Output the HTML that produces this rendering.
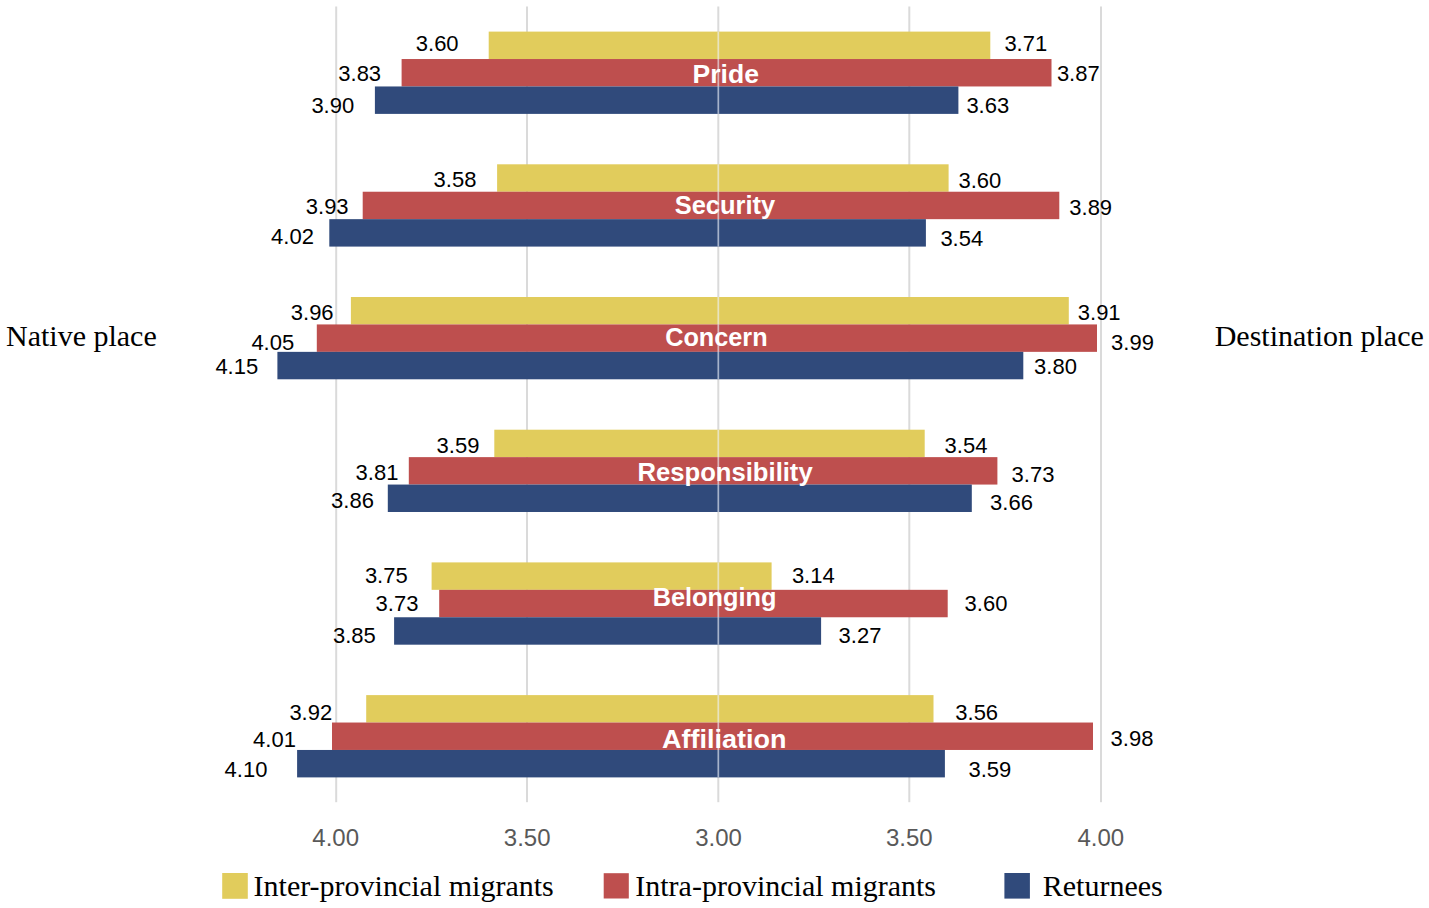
<!DOCTYPE html>
<html><head><meta charset="utf-8"><style>
html,body{margin:0;padding:0;background:#fff;}
body{width:1429px;height:908px;overflow:hidden;}
svg{display:block;}
.v{font-family:"Liberation Sans",sans-serif;font-size:22px;fill:#000;text-anchor:middle;}
.c{font-family:"Liberation Sans",sans-serif;font-weight:bold;font-size:26px;fill:#fff;text-anchor:middle;}
.a{font-family:"Liberation Sans",sans-serif;font-size:24px;fill:#595959;text-anchor:middle;}
.s{font-family:"Liberation Serif",serif;font-size:30px;fill:#000;}
</style></head><body>
<svg width="1429" height="908" viewBox="0 0 1429 908">
<rect width="1429" height="908" fill="#fff"/>
<rect x="335.2" y="6.5" width="2" height="795.7" fill="#dadada"/>
<rect x="526" y="6.5" width="2" height="795.7" fill="#dadada"/>
<rect x="717.3" y="6.5" width="2" height="795.7" fill="#dadada"/>
<rect x="908.3" y="6.5" width="2" height="795.7" fill="#dadada"/>
<rect x="1100" y="6.5" width="2" height="795.7" fill="#dadada"/>
<rect x="488.70" y="31.60" width="229.55" height="27.43" fill="#E1CC5C"/>
<rect x="718.25" y="31.60" width="272.05" height="27.43" fill="#E1CC5C"/>
<rect x="401.60" y="59.03" width="316.65" height="27.43" fill="#BE4F4E"/>
<rect x="718.25" y="59.03" width="333.25" height="27.43" fill="#BE4F4E"/>
<rect x="374.90" y="86.46" width="343.35" height="27.43" fill="#304A7B"/>
<rect x="718.25" y="86.46" width="240.15" height="27.43" fill="#304A7B"/>
<rect x="497.10" y="164.30" width="221.15" height="27.43" fill="#E1CC5C"/>
<rect x="718.25" y="164.30" width="230.35" height="27.43" fill="#E1CC5C"/>
<rect x="362.70" y="191.73" width="355.55" height="27.43" fill="#BE4F4E"/>
<rect x="718.25" y="191.73" width="341.05" height="27.43" fill="#BE4F4E"/>
<rect x="329.30" y="219.16" width="388.95" height="27.43" fill="#304A7B"/>
<rect x="718.25" y="219.16" width="207.65" height="27.43" fill="#304A7B"/>
<rect x="350.90" y="297.00" width="367.35" height="27.43" fill="#E1CC5C"/>
<rect x="718.25" y="297.00" width="350.55" height="27.43" fill="#E1CC5C"/>
<rect x="316.80" y="324.43" width="401.45" height="27.43" fill="#BE4F4E"/>
<rect x="718.25" y="324.43" width="378.75" height="27.43" fill="#BE4F4E"/>
<rect x="277.40" y="351.86" width="440.85" height="27.43" fill="#304A7B"/>
<rect x="718.25" y="351.86" width="305.05" height="27.43" fill="#304A7B"/>
<rect x="494.30" y="429.70" width="223.95" height="27.43" fill="#E1CC5C"/>
<rect x="718.25" y="429.70" width="206.45" height="27.43" fill="#E1CC5C"/>
<rect x="408.80" y="457.13" width="309.45" height="27.43" fill="#BE4F4E"/>
<rect x="718.25" y="457.13" width="279.15" height="27.43" fill="#BE4F4E"/>
<rect x="387.80" y="484.56" width="330.45" height="27.43" fill="#304A7B"/>
<rect x="718.25" y="484.56" width="253.55" height="27.43" fill="#304A7B"/>
<rect x="431.60" y="562.40" width="286.65" height="27.43" fill="#E1CC5C"/>
<rect x="718.25" y="562.40" width="53.35" height="27.43" fill="#E1CC5C"/>
<rect x="439.20" y="589.83" width="279.05" height="27.43" fill="#BE4F4E"/>
<rect x="718.25" y="589.83" width="229.45" height="27.43" fill="#BE4F4E"/>
<rect x="394.10" y="617.26" width="324.15" height="27.43" fill="#304A7B"/>
<rect x="718.25" y="617.26" width="102.85" height="27.43" fill="#304A7B"/>
<rect x="366.20" y="695.10" width="352.05" height="27.43" fill="#E1CC5C"/>
<rect x="718.25" y="695.10" width="215.25" height="27.43" fill="#E1CC5C"/>
<rect x="332.00" y="722.53" width="386.25" height="27.43" fill="#BE4F4E"/>
<rect x="718.25" y="722.53" width="374.75" height="27.43" fill="#BE4F4E"/>
<rect x="297.10" y="749.96" width="421.15" height="27.43" fill="#304A7B"/>
<rect x="718.25" y="749.96" width="226.65" height="27.43" fill="#304A7B"/>
<rect x="717.4" y="31.60" width="1.8" height="82.29" fill="#eef4ff" fill-opacity="0.55"/>
<rect x="717.4" y="164.30" width="1.8" height="82.29" fill="#eef4ff" fill-opacity="0.55"/>
<rect x="717.4" y="297.00" width="1.8" height="82.29" fill="#eef4ff" fill-opacity="0.55"/>
<rect x="717.4" y="429.70" width="1.8" height="82.29" fill="#eef4ff" fill-opacity="0.55"/>
<rect x="717.4" y="562.40" width="1.8" height="82.29" fill="#eef4ff" fill-opacity="0.55"/>
<rect x="717.4" y="695.10" width="1.8" height="82.29" fill="#eef4ff" fill-opacity="0.55"/>
<text x="437.2" y="51.3" class="v">3.60</text>
<text x="1025.8" y="51.3" class="v">3.71</text>
<text x="359.7" y="80.7" class="v">3.83</text>
<text x="1078.3" y="80.7" class="v">3.87</text>
<text x="332.8" y="112.9" class="v">3.90</text>
<text x="987.8" y="112.9" class="v">3.63</text>
<text x="455" y="186.8" class="v">3.58</text>
<text x="979.9" y="187.9" class="v">3.60</text>
<text x="327.2" y="214.0" class="v">3.93</text>
<text x="1090.7" y="214.5" class="v">3.89</text>
<text x="292.5" y="244.3" class="v">4.02</text>
<text x="961.8" y="245.6" class="v">3.54</text>
<text x="312.2" y="320" class="v">3.96</text>
<text x="1099.2" y="320" class="v">3.91</text>
<text x="272.8" y="350.1" class="v">4.05</text>
<text x="1132.5" y="350.3" class="v">3.99</text>
<text x="236.8" y="374.2" class="v">4.15</text>
<text x="1055.5" y="374.2" class="v">3.80</text>
<text x="458" y="452.9" class="v">3.59</text>
<text x="966" y="452.9" class="v">3.54</text>
<text x="377" y="480.4" class="v">3.81</text>
<text x="1033" y="481.6" class="v">3.73</text>
<text x="352.5" y="507.5" class="v">3.86</text>
<text x="1011.5" y="509.6" class="v">3.66</text>
<text x="386.3" y="582.6" class="v">3.75</text>
<text x="813.3" y="582.6" class="v">3.14</text>
<text x="397" y="611.3" class="v">3.73</text>
<text x="986" y="611.3" class="v">3.60</text>
<text x="354.4" y="642.5" class="v">3.85</text>
<text x="860" y="642.8" class="v">3.27</text>
<text x="310.8" y="719.6" class="v">3.92</text>
<text x="976.7" y="719.6" class="v">3.56</text>
<text x="274.5" y="746.6" class="v">4.01</text>
<text x="1132" y="746.2" class="v">3.98</text>
<text x="246" y="776.8" class="v">4.10</text>
<text x="989.9" y="777.4" class="v">3.59</text>
<text x="725.7" y="83.1" class="c" textLength="66.4" lengthAdjust="spacingAndGlyphs">Pride</text>
<text x="724.9" y="214.3" class="c" textLength="100.4" lengthAdjust="spacingAndGlyphs">Security</text>
<text x="716.4" y="345.9" class="c" textLength="102.4" lengthAdjust="spacingAndGlyphs">Concern</text>
<text x="725.1" y="480.9" class="c" textLength="175.1" lengthAdjust="spacingAndGlyphs">Responsibility</text>
<text x="714.6" y="605.5" class="c" textLength="123.8" lengthAdjust="spacingAndGlyphs">Belonging</text>
<text x="724.2" y="747.6" class="c" textLength="124.4" lengthAdjust="spacingAndGlyphs">Affiliation</text>
<text x="335.7" y="845.5" class="a">4.00</text>
<text x="527.2" y="845.5" class="a">3.50</text>
<text x="718.6" y="845.5" class="a">3.00</text>
<text x="909.3" y="845.5" class="a">3.50</text>
<text x="1100.8" y="845.5" class="a">4.00</text>
<text x="6" y="345.7" class="s">Native place</text>
<text x="1214.7" y="346" class="s">Destination place</text>
<rect x="222.2" y="873" width="25.6" height="25.8" fill="#E1CC5C"/>
<rect x="603.7" y="873.2" width="25.1" height="25.3" fill="#BE4F4E"/>
<rect x="1004.4" y="873" width="25.5" height="25.6" fill="#304A7B"/>
<text x="253.6" y="895.9" class="s">Inter-provincial migrants</text>
<text x="635.3" y="895.9" class="s">Intra-provincial migrants</text>
<text x="1042.8" y="895.9" class="s">Returnees</text>
</svg>
</body></html>
